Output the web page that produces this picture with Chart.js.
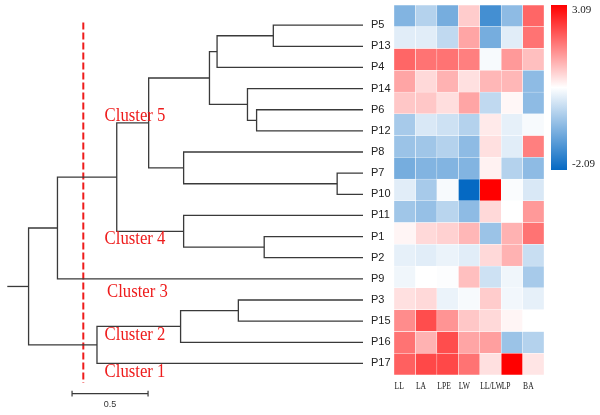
<!DOCTYPE html>
<html>
<head>
<meta charset="utf-8">
<script src="https://cdn.jsdelivr.net/npm/chart.js@4.4.0/dist/chart.umd.min.js"></script>
<style>
    body { margin: 0; background: #fff; }
    #contenedor { position: relative; width: 600px; height: 415px; }
    canvas { position: absolute; top: 0; }
</style>
</head>
<body>
<div id="contenedor">
    <canvas id="dendro" width="394" height="415" style="left:0"></canvas>
    <canvas id="mapa" width="170" height="415" style="left:380px"></canvas>
    <canvas id="barra" width="49" height="415" style="left:551px"></canvas>
</div>
<script>
// Hojas del dendrograma (orden de arriba a abajo)
const hojas = ["P5", "P13", "P4", "P14", "P6", "P12", "P8", "P7", "P10", "P11", "P1", "P2", "P9", "P3", "P15", "P16", "P17"];

// Uniones: [nodo, hijo A, hijo B, altura]
const uniones = [
    ["n1", "P5", "P13", 0.59],
    ["n2", "n1", "P4", 0.96],
    ["n3", "P6", "P12", 0.70],
    ["n4", "P14", "n3", 0.76],
    ["n5", "n2", "n4", 1.01],
    ["n6", "P7", "P10", 0.17],
    ["n7", "P8", "n6", 1.18],
    ["n8", "n5", "n7", 1.41],
    ["n9", "P1", "P2", 0.65],
    ["n10", "P11", "n9", 1.18],
    ["n11", "n8", "n10", 1.62],
    ["n12", "n11", "P9", 2.01],
    ["n13", "P3", "P15", 0.82],
    ["n14", "n13", "P16", 1.20],
    ["n15", "n14", "P17", 1.75],
    ["n16", "n12", "n15", 2.20]
];
const alturaTallo = 2.34;
const alturaCorte = 1.84;
const escalaBarra = 0.5;

// Columnas del mapa de calor y valores por columna (mismo orden que hojas)
const columnas = ["LL", "LA", "LPE", "LW", "LL/LW", "LP", "BA"];
const LL    = [-0.80, 0.19, 2.05, 1.41, 1.07, -0.41, -0.54, -0.92, 0.19, -0.48, 0.60, 0.24, 0.34, 0.81, 1.67, 1.92, 2.11];
const LA    = [-0.28, 0.19, 1.92, 0.89, 1.07, 0.11, -0.48, -0.80, -0.41, -0.59, 0.89, 0.19, 0.50, 0.89, 2.31, 1.28, 2.36];
const LPE   = [-0.92, -0.15, 1.92, 1.28, 0.84, -0.02, -0.28, -0.80, 0.42, -0.23, 0.97, 0.29, 0.47, 0.29, 1.59, 2.31, 2.36];
const LW    = [1.02, 1.41, 1.80, 0.81, 1.41, -0.28, -0.67, -0.80, -2.09, -0.67, 1.23, 0.19, 1.15, 0.42, 1.07, 1.41, 1.92];
const LL_LW = [-1.44, -0.92, 0.42, 1.23, -0.15, 0.71, 0.81, 0.63, 3.09, 0.89, -0.54, 0.89, -0.02, 1.02, 0.89, 1.48, 0.81];
const LP    = [-0.67, 0.19, 1.54, 1.23, 0.58, 0.24, 0.19, -0.28, 0.45, 0.50, 1.28, 1.28, 0.34, 0.37, 0.60, -0.54, 3.09];
const BA    = [2.05, 1.92, 1.15, -0.67, -0.67, 0.42, 1.80, -0.67, 0.11, 1.54, 1.92, -0.07, -0.41, 0.24, 0.50, -0.28, 0.76];
const valores = [LL, LA, LPE, LW, LL_LW, LP, BA];

const escalaMin = -2.09;
const escalaMax = 3.09;

// Etiquetas de clusters: [texto, altura, posición en filas]
const etiquetasCluster = [
    ["Cluster 5", 1.70, 4.32],
    ["Cluster 4", 1.70, 10.13],
    ["Cluster 3", 1.684, 12.61],
    ["Cluster 2", 1.70, 14.65],
    ["Cluster 1", 1.70, 16.41]
];

const rojo = "rgb(238, 28, 28)";
const gris = "#3a3a3a";

// Color de una celda según su valor (azul - blanco - rojo)
function colorDe(v) {
    const medio = (escalaMin + escalaMax) / 2;
    let t = (v - medio) / (escalaMax - medio);
    t = Math.max(-1, Math.min(1, t));
    if (t >= 0) {
        const c = Math.round(255 * (1 - t));
        return `rgb(255, ${c}, ${c})`;
    }
    const a = -t;
    return `rgb(${Math.round(255 - 250 * a)}, ${Math.round(255 - 150 * a)}, ${Math.round(255 - 60 * a)})`;
}

// Texto algo estrechado, como en la figura original
function textoEstrecho(ctx, texto, x, y, factor) {
    ctx.save();
    ctx.translate(x, y);
    ctx.scale(factor, 1);
    ctx.fillText(texto, 0, 0);
    ctx.restore();
}

function linea(puntos, extra) {
    return Object.assign({
        data: puntos,
        showLine: true,
        borderColor: gris,
        borderWidth: 1.3,
        pointRadius: 0,
        tension: 0,
        clip: false
    }, extra || {});
}

// Ramas del dendrograma
const pos = {};
hojas.forEach((h, i) => { pos[h] = { x: 0, y: i }; });
const ramas = uniones.map(([id, a, b, h]) => {
    const pa = pos[a], pb = pos[b];
    pos[id] = { x: h, y: (pa.y + pb.y) / 2 };
    return linea([
        { x: pa.x, y: pa.y }, { x: h, y: pa.y },
        { x: h, y: pb.y }, { x: pb.x, y: pb.y }
    ]);
});
const raiz = pos["n16"];
ramas.push(linea([{ x: raiz.x, y: raiz.y }, { x: alturaTallo, y: raiz.y }]));

// Línea de corte roja
ramas.push(linea([{ x: alturaCorte, y: -0.13 }, { x: alturaCorte, y: 16.92 }],
    { borderColor: rojo, borderWidth: 2, borderDash: [7, 3] }));

// Barra de escala
const xb1 = 1.914, xb2 = xb1 - escalaBarra, yb = 17.43;
ramas.push(linea([
    { x: xb1, y: yb - 0.14 }, { x: xb1, y: yb + 0.14 }, { x: xb1, y: yb },
    { x: xb2, y: yb }, { x: xb2, y: yb - 0.14 }, { x: xb2, y: yb + 0.14 }
], { borderWidth: 1.2 }));

const textosPlugin = {
    id: "textos",
    afterDatasetsDraw(chart) {
        const { ctx, scales: { x, y } } = chart;
        ctx.save();
        ctx.fillStyle = rojo;
        ctx.font = '19px "Liberation Serif"';
        ctx.textAlign = "left";
        ctx.textBaseline = "middle";
        etiquetasCluster.forEach(([t, h, f]) => {
            textoEstrecho(ctx, t, x.getPixelForValue(h), y.getPixelForValue(f), 0.88);
        });
        ctx.fillStyle = "#333";
        ctx.font = '9px "Liberation Sans"';
        ctx.textAlign = "center";
        ctx.fillText(String(escalaBarra), x.getPixelForValue((xb1 + xb2) / 2), y.getPixelForValue(17.93));
        ctx.restore();
    }
};

new Chart(document.getElementById("dendro"), {
    type: "scatter",
    data: { datasets: ramas },
    options: {
        responsive: false,
        animation: false,
        layout: { padding: { top: 7, bottom: 41, left: 0, right: 0 } },
        plugins: { legend: { display: false }, tooltip: { enabled: false } },
        scales: {
            x: { display: false, min: 0, max: 2.388, reverse: true },
            y: {
                position: "right",
                min: -0.5,
                max: 16.5,
                reverse: true,
                grid: { display: false, drawTicks: false },
                border: { display: false },
                afterFit: s => { s.width = 31; },
                afterBuildTicks: s => { s.ticks = hojas.map((_, i) => ({ value: i })); },
                ticks: {
                    autoSkip: false,
                    padding: 8,
                    color: "#222",
                    font: { family: "Liberation Sans", size: 11 },
                    callback: v => hojas[v]
                }
            }
        }
    },
    plugins: [textosPlugin]
});

// Nombres de columnas bajo el mapa, alineados al inicio de cada columna
const columnasPlugin = {
    id: "columnas",
    afterDraw(chart) {
        const { ctx, chartArea, scales: { x } } = chart;
        ctx.save();
        ctx.fillStyle = "#222";
        ctx.font = '10px "Liberation Serif"';
        ctx.textAlign = "left";
        ctx.textBaseline = "alphabetic";
        columnas.forEach((c, j) => {
            textoEstrecho(ctx, c, x.getPixelForValue(j) + 0.5, chartArea.bottom + 13.5, 0.76);
        });
        ctx.restore();
    }
};

// Mapa de calor con barras apiladas
new Chart(document.getElementById("mapa"), {
    type: "bar",
    data: {
        labels: hojas,
        datasets: columnas.map((c, j) => ({
            label: c,
            data: hojas.map(() => 1),
            backgroundColor: valores[j].map(colorDe),
            borderColor: "rgba(255,255,255,0.8)",
            borderWidth: 0.5,
            borderSkipped: false,
            barPercentage: 1,
            categoryPercentage: 1
        }))
    },
    options: {
        indexAxis: "y",
        responsive: false,
        animation: false,
        layout: { padding: { top: 5, left: 14, right: 6, bottom: 0 } },
        plugins: { legend: { display: false }, tooltip: { enabled: false } },
        scales: {
            x: {
                stacked: true,
                min: 0,
                max: columnas.length,
                grid: { display: false, drawTicks: false },
                border: { display: false },
                ticks: { display: false },
                afterFit: s => { s.height = 40; }
            },
            y: { stacked: true, display: false }
        }
    },
    plugins: [columnasPlugin]
});

// Barra de colores
function gradiente(chart) {
    if (!chart.chartArea) return null;
    const y = chart.scales.y;
    const g = chart.ctx.createLinearGradient(0, y.getPixelForValue(escalaMin), 0, y.getPixelForValue(escalaMax));
    g.addColorStop(0, colorDe(escalaMin));
    g.addColorStop(0.5, "#ffffff");
    g.addColorStop(1, colorDe(escalaMax));
    return g;
}

function ejeBarra(valor, ancho, extra) {
    return Object.assign({
        min: escalaMin,
        max: escalaMax,
        grid: { display: false, drawTicks: false },
        border: { display: false },
        afterBuildTicks: s => { s.ticks = [{ value: valor }]; },
        // sin relleno extra arriba/abajo, la barra debe ocupar su sitio exacto
        afterFit: s => { s.width = ancho; s.paddingTop = 0; s.paddingBottom = 0; }
    }, extra);
}

const fuenteBarra = { family: "Liberation Serif", size: 11 };

new Chart(document.getElementById("barra"), {
    type: "bar",
    data: {
        labels: [""],
        datasets: [{
            data: [[escalaMin, escalaMax]],
            backgroundColor: ctx => gradiente(ctx.chart),
            borderWidth: 0,
            barPercentage: 1,
            categoryPercentage: 1
        }]
    },
    options: {
        responsive: false,
        animation: false,
        layout: { padding: { top: 5, bottom: 245, left: 0, right: 0 } },
        plugins: { legend: { display: false }, tooltip: { enabled: false } },
        scales: {
            x: { display: false },
            // 3.09 arriba, a la derecha de la barra
            y: ejeBarra(escalaMax, 33, {
                position: "right",
                ticks: { align: "start", padding: 5, color: "#222", font: fuenteBarra, callback: v => v.toFixed(2) }
            }),
            // -2.09 abajo, mismo sitio (eje izquierdo reflejado)
            y2: ejeBarra(escalaMin, 0, {
                position: "left",
                ticks: { align: "end", mirror: true, padding: 21, color: "#222", font: fuenteBarra, callback: v => v.toFixed(2) }
            })
        }
    }
});
</script>
</body>
</html>
